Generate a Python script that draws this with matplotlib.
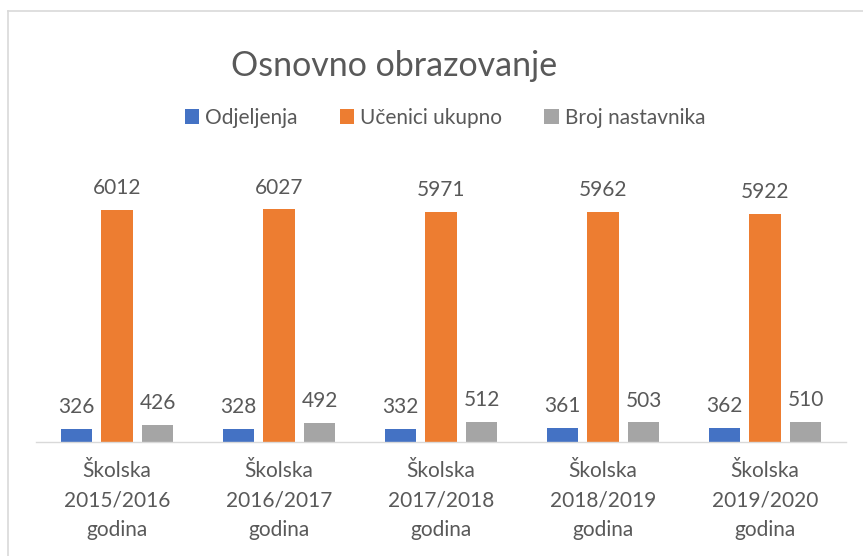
#!/usr/bin/env python3
"""Osnovno obrazovanje: grouped bars per school year."""
import matplotlib

matplotlib.use("Agg")
import matplotlib.pyplot as plt
from matplotlib.lines import Line2D
from matplotlib.patches import Patch
import numpy as np

CATEGORIES = [
    "Školska\n2015/2016\ngodina",
    "Školska\n2016/2017\ngodina",
    "Školska\n2017/2018\ngodina",
    "Školska\n2018/2019\ngodina",
    "Školska\n2019/2020\ngodina",
]
SERIES = ["Odjeljenja", "Učenici ukupno", "Broj nastavnika"]
ODJELJENJA = [326, 328, 332, 361, 362]
UCENICI = [6012, 6027, 5971, 5962, 5922]
NASTAVNICI = [426, 492, 512, 503, 510]

COLORS = ["#4472C4", "#ED7D31", "#A5A5A5"]
TEXT = "#595959"
W, H = 863, 556


def main() -> None:
    plt.rcParams["font.family"] = ["Lato", "DejaVu Sans"]
    fig = plt.figure(figsize=(W / 100, H / 100), dpi=100)
    base = 441.7
    top = 172.0
    ax = fig.add_axes([36 / W, (H - base) / H, (846 - 36) / W, (base - top) / H])

    x = np.arange(len(CATEGORIES))
    width = 0.195
    step = 0.251
    for i, (vals, name) in enumerate(zip([ODJELJENJA, UCENICI, NASTAVNICI], SERIES)):
        bars = ax.bar(x + (i - 1) * step, vals, width, color=COLORS[i], label=name, zorder=2)
        for b, v in zip(bars, vals):
            ax.annotate(
                f"{v}",
                (b.get_x() + b.get_width() / 2, v),
                xytext=(0, 8.5),
                textcoords="offset points",
                ha="center",
                va="bottom",
                fontsize=15,
                color=TEXT,
            )

    ax.set_xlim(-0.5, len(CATEGORIES) - 0.5)
    ax.set_ylim(0, 7000)
    for s in ("top", "right", "left"):
        ax.spines[s].set_visible(False)
    ax.spines["bottom"].set_color("#D9D9D9")
    ax.spines["bottom"].set_linewidth(1.0)
    ax.set_yticks([])
    ax.set_xticks(x)
    ax.set_xticklabels(CATEGORIES, fontsize=15, color=TEXT, linespacing=1.6)
    ax.tick_params(axis="x", length=0, pad=14)

    fig.text(394 / W, 1 - 66 / H, "Osnovno obrazovanje", ha="center", va="center",
             fontsize=24.5, color=TEXT)
    handles = [Patch(facecolor=c, edgecolor="none") for c in COLORS]
    fig.legend(handles, SERIES, loc="center", bbox_to_anchor=(445 / W, 1 - 118 / H),
               ncol=3, frameon=False, fontsize=15, labelcolor=TEXT,
               handlelength=0.7, handleheight=0.7, handletextpad=0.3, columnspacing=2.0)

    # outer chart border
    fig.add_artist(Line2D([8 / W, 1], [1 - 11 / H, 1 - 11 / H], color="#D9D9D9", lw=1.2,
                          transform=fig.transFigure))
    fig.add_artist(Line2D([8 / W, 8 / W], [0, 1 - 11 / H], color="#D9D9D9", lw=1.2,
                          transform=fig.transFigure))

    fig.savefig("out.png", dpi=100)
    plt.close(fig)


if __name__ == "__main__":
    main()
